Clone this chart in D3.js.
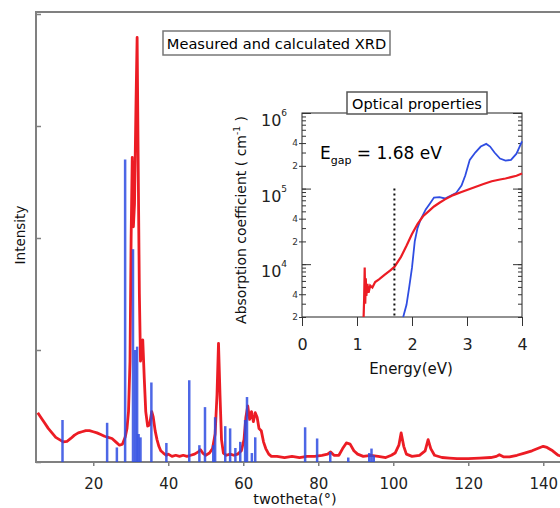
<!DOCTYPE html>
<html>
<head>
<meta charset="utf-8">
<script src="https://cdn.jsdelivr.net/npm/d3@7"></script>
<style>
body { margin: 0; background: #fff; }
text { font-family: "DejaVu Sans", sans-serif; }
</style>
</head>
<body>
<script>
// measured XRD pattern [twotheta, intensity]
var measured = [[5.2,0.44],[6,0.40],[7,0.35],[8,0.30],[9,0.26],[10,0.22],[11,0.20],[12,0.18],[13,0.185],[14,0.21],[15,0.24],[16,0.26],[17,0.27],[18,0.28],[19,0.28],[20,0.27],[21,0.26],[22,0.245],[23,0.23],[24,0.22],[25,0.21],[26,0.18],[27,0.15],[27.8,0.16],[28.5,0.22],[29,0.3],[29.4,0.45],[29.8,0.9],[30.1,2.0],[30.4,2.72],[30.7,2.1],[31.0,2.3],[31.4,3.2],[31.7,3.79],[32.0,2.6],[32.3,1.5],[32.6,0.9],[32.9,1.0],[33.2,1.09],[33.6,0.75],[34.0,0.45],[34.5,0.32],[35.0,0.33],[35.6,0.45],[36.0,0.4],[36.5,0.28],[37,0.2],[37.5,0.14],[38,0.1],[38.7,0.08],[39.5,0.06],[40,0.07],[41,0.05],[42,0.06],[43,0.05],[44,0.06],[45,0.05],[46,0.06],[47,0.07],[48,0.09],[48.6,0.11],[49.2,0.08],[50,0.06],[51,0.08],[51.8,0.12],[52.5,0.25],[53,0.6],[53.4,1.06],[53.8,0.6],[54.2,0.2],[54.7,0.08],[55.5,0.06],[56.5,0.07],[57.5,0.06],[58.5,0.07],[59.5,0.1],[60.2,0.2],[60.7,0.4],[61.2,0.5],[61.7,0.38],[62.2,0.45],[62.7,0.36],[63.2,0.44],[63.7,0.4],[64.2,0.3],[64.8,0.28],[65.4,0.18],[66,0.12],[66.8,0.07],[67.5,0.05],[69,0.05],[71,0.04],[73,0.05],[75,0.04],[77,0.05],[79,0.05],[81,0.06],[82.5,0.07],[83.3,0.09],[84.2,0.06],[85.5,0.06],[86.5,0.12],[87.5,0.17],[88.5,0.16],[89.5,0.1],[90.5,0.07],[92,0.05],[94,0.06],[96,0.05],[98,0.04],[99.5,0.06],[100.5,0.08],[101.5,0.15],[102.1,0.26],[102.8,0.14],[103.5,0.07],[105,0.05],[107,0.06],[108.5,0.1],[109.3,0.2],[110,0.12],[111,0.06],[113,0.04],[115,0.035],[117,0.03],[120,0.03],[123,0.035],[126,0.04],[127.5,0.05],[128.3,0.065],[129.5,0.045],[131,0.045],[133,0.06],[135,0.08],[137,0.1],[138.5,0.12],[140,0.14],[141,0.13],[142.5,0.1],[144,0.06],[146,0.04],[150,0.04]];

// calculated XRD sticks [twotheta, intensity]
var calculated = [[11.8,0.375],[23.7,0.35],[26.3,0.13],[28.5,2.7],[30.6,1.9],[31.2,1.0],[31.7,1.03],[32.1,0.25],[32.6,0.22],[35.5,0.71],[39.5,0.17],[45.6,0.73],[48.3,0.15],[49.8,0.49],[52.0,0.15],[52.5,0.4],[55.2,0.32],[56.5,0.3],[57.9,0.125],[59.2,0.18],[60.5,0.375],[61.0,0.58],[62.3,0.08],[63.2,0.22],[76.5,0.31],[79.7,0.21],[83.2,0.09],[88,0.04],[93.6,0.08],[94.2,0.12],[94.8,0.06]];

var xTicks = [20, 40, 60, 80, 100, 120, 140];
var yTicks = [0, 1, 2, 3, 4];

// inset: absorption coefficient vs energy
var redEnergy = [1.12,1.13,1.14,1.15,1.16,1.17,1.19,1.21,1.24,1.28,1.33,1.4,1.5,1.6,1.68,1.8,1.9,2.0,2.1,2.2,2.3,2.4,2.5,2.6,2.75,2.9,3.0,3.15,3.3,3.45,3.6,3.7,3.8,3.9,4.0];
var redAbs = [2000,3500,9000,3000,6500,3800,5500,4200,5200,4900,5800,6300,7200,8200,9200,12500,17500,25000,34000,43000,50000,58000,65000,72000,82000,90000,96000,105000,115000,125000,132000,136000,142000,148000,158000];
var blueEnergy = [1.84,1.9,1.95,2.0,2.05,2.1,2.15,2.25,2.33,2.4,2.5,2.6,2.7,2.8,2.9,2.97,3.05,3.15,3.25,3.35,3.42,3.5,3.6,3.7,3.8,3.9,4.0];
var blueAbs = [2000,2900,5000,9000,20000,30000,38000,53000,64000,76000,77000,74000,80000,87000,110000,150000,240000,300000,360000,390000,360000,300000,250000,235000,240000,290000,420000];
var eTicks = [0, 1, 2, 3, 4];
var decades = [4, 5, 6];
var minorLabels = [2000, 4000, 20000, 40000, 200000, 400000];
var egap = 1.68;

var red = "#ec1c24", blue = "#2f4de2", grey = "#808080";

var svg = d3.select("body").append("svg")
  .attr("width", 560).attr("height", 508);

// ---- main XRD plot ----
var x = d3.scaleLinear().domain([5, 150]).range([37, 580.75]);
var y = d3.scaleLinear().domain([0, 4]).range([462, 14]);

svg.append("rect").attr("x", 36).attr("y", 12).attr("width", 600).attr("height", 450)
  .attr("fill", "none").attr("stroke", grey).attr("stroke-width", 2);

svg.append("path")
  .datum(measured)
  .attr("fill", "none").attr("stroke", red).attr("stroke-width", 2.8)
  .attr("stroke-linejoin", "round")
  .attr("d", d3.line().x(function(d){ return x(d[0]); }).y(function(d){ return y(d[1]); }));

svg.append("g").selectAll("line")
  .data(calculated)
  .enter().append("line")
  .attr("x1", function(d){ return x(d[0]); })
  .attr("x2", function(d){ return x(d[0]); })
  .attr("y1", y(0))
  .attr("y2", function(d){ return y(d[1]); })
  .attr("stroke", blue).attr("stroke-width", 2.5).attr("opacity", 0.85);

var xAxis = svg.append("g").attr("transform", "translate(0,462)")
  .call(d3.axisBottom(x).tickValues(xTicks).tickSize(4).tickPadding(12).tickFormat(d3.format("d")));
xAxis.select(".domain").remove();
xAxis.selectAll("line").attr("stroke", grey).attr("stroke-width", 1.5);
xAxis.selectAll("text").attr("font-size", 15).attr("fill", "#222");

var yAxis = svg.append("g").attr("transform", "translate(36,0)")
  .call(d3.axisLeft(y).tickValues(yTicks).tickSize(-5).tickFormat(""));
yAxis.select(".domain").remove();
yAxis.selectAll("line").attr("stroke", grey).attr("stroke-width", 1.5);

svg.append("text").attr("x", 295).attr("y", 504).attr("text-anchor", "middle")
  .attr("font-size", 14.5).attr("fill", "#111").text("twotheta(°)");
svg.append("text").attr("transform", "translate(25,235) rotate(-90)")
  .attr("text-anchor", "middle").attr("font-size", 13.5).attr("fill", "#111").text("Intensity");

svg.append("rect").attr("x", 163).attr("y", 31).attr("width", 227).attr("height", 24)
  .attr("fill", "#fff").attr("stroke", "#777").attr("stroke-width", 1.5);
svg.append("text").attr("x", 276.5).attr("y", 48.5).attr("text-anchor", "middle")
  .attr("font-size", 14.6).attr("fill", "#000").text("Measured and calculated XRD");

// ---- inset ----
var ex = d3.scaleLinear().domain([0, 4]).range([302, 522]);
var ey = d3.scaleLog().domain([2000, 1e6]).range([317, 113]);
var inset = svg.append("g");

inset.append("rect").attr("x", 302).attr("y", 113).attr("width", 220).attr("height", 204)
  .attr("fill", "#fff").attr("stroke", "#222").attr("stroke-width", 1);

var minors = [];
decades.forEach(function(p){
  for (var k = 1; k < 10; k++) {
    var v = k * Math.pow(10, p - 1);
    if (v >= 2000 && v <= 1e6) minors.push(v);
  }
});
minors.push(1e6);
var majors = decades.map(function(p){ return Math.pow(10, p); });

[[d3.axisLeft, 302], [d3.axisRight, 522]].forEach(function(a){
  var gMin = inset.append("g").attr("transform", "translate(" + a[1] + ",0)")
    .call(a[0](ey).tickValues(minors).tickSize(-4).tickFormat(""));
  gMin.select(".domain").remove();
  var gMaj = inset.append("g").attr("transform", "translate(" + a[1] + ",0)")
    .call(a[0](ey).tickValues(majors).tickSize(-9).tickFormat(""));
  gMaj.select(".domain").remove();
});
inset.selectAll("line").attr("stroke", "#333").attr("stroke-width", 1);

var minorAxis = inset.append("g").attr("transform", "translate(302,0)")
  .call(d3.axisLeft(ey).tickValues(minorLabels).tickSize(3).tickPadding(1)
    .tickFormat(function(d){ return String(d).charAt(0); }));
minorAxis.select(".domain").remove();
minorAxis.selectAll("text").attr("font-size", 9).attr("fill", "#333");
minorAxis.selectAll("line").attr("stroke", "#333");

majors.forEach(function(v, i){
  var t = inset.append("text").attr("x", 261).attr("y", ey(v) + 13)
    .attr("font-size", 16).attr("fill", "#222").text("10");
  t.append("tspan").attr("font-size", 9).attr("dy", -10).text(decades[i]);
});

var exAxis = inset.append("g").attr("transform", "translate(0,317)")
  .call(d3.axisBottom(ex).tickValues(eTicks).tickSize(9).tickPadding(13).tickFormat(d3.format("d")));
exAxis.select(".domain").remove();
exAxis.selectAll("line").attr("stroke", "#333");
exAxis.selectAll("text").attr("font-size", 16).attr("fill", "#222");

inset.append("text").attr("x", 411).attr("y", 374).attr("text-anchor", "middle")
  .attr("font-size", 15).attr("fill", "#111").text("Energy(eV)");

var yl = inset.append("text").attr("transform", "translate(246,220) rotate(-90)")
  .attr("text-anchor", "middle").attr("font-size", 14).attr("fill", "#111")
  .text("Absorption coefficient ( cm");
yl.append("tspan").attr("font-size", 9).attr("dy", -6).text("-1");
yl.append("tspan").attr("dy", 6).text(" )");

var lineE = d3.line().x(function(d){ return ex(d[0]); }).y(function(d){ return ey(d[1]); });
inset.append("path").datum(d3.zip(blueEnergy, blueAbs))
  .attr("fill", "none").attr("stroke", blue).attr("stroke-width", 1.8).attr("d", lineE);
inset.append("path").datum(d3.zip(redEnergy, redAbs))
  .attr("fill", "none").attr("stroke", red).attr("stroke-width", 2.2).attr("d", lineE);

inset.append("line").attr("x1", ex(egap)).attr("x2", ex(egap))
  .attr("y1", ey(1e5)).attr("y2", ey(2000))
  .attr("stroke", "#111").attr("stroke-width", 2).attr("stroke-dasharray", "2,3");

var eg = inset.append("text").attr("x", 320).attr("y", 159).attr("font-size", 17).attr("fill", "#000").text("E");
eg.append("tspan").attr("font-size", 11).attr("dy", 5).text("gap");
eg.append("tspan").attr("dy", -5).text(" = 1.68 eV");

inset.append("rect").attr("x", 347).attr("y", 92).attr("width", 140).attr("height", 22)
  .attr("fill", "#fff").attr("stroke", "#555").attr("stroke-width", 1.5);
inset.append("text").attr("x", 417).attr("y", 108.5).attr("text-anchor", "middle")
  .attr("font-size", 14.5).attr("fill", "#000").text("Optical properties");
</script>
</body>
</html>
